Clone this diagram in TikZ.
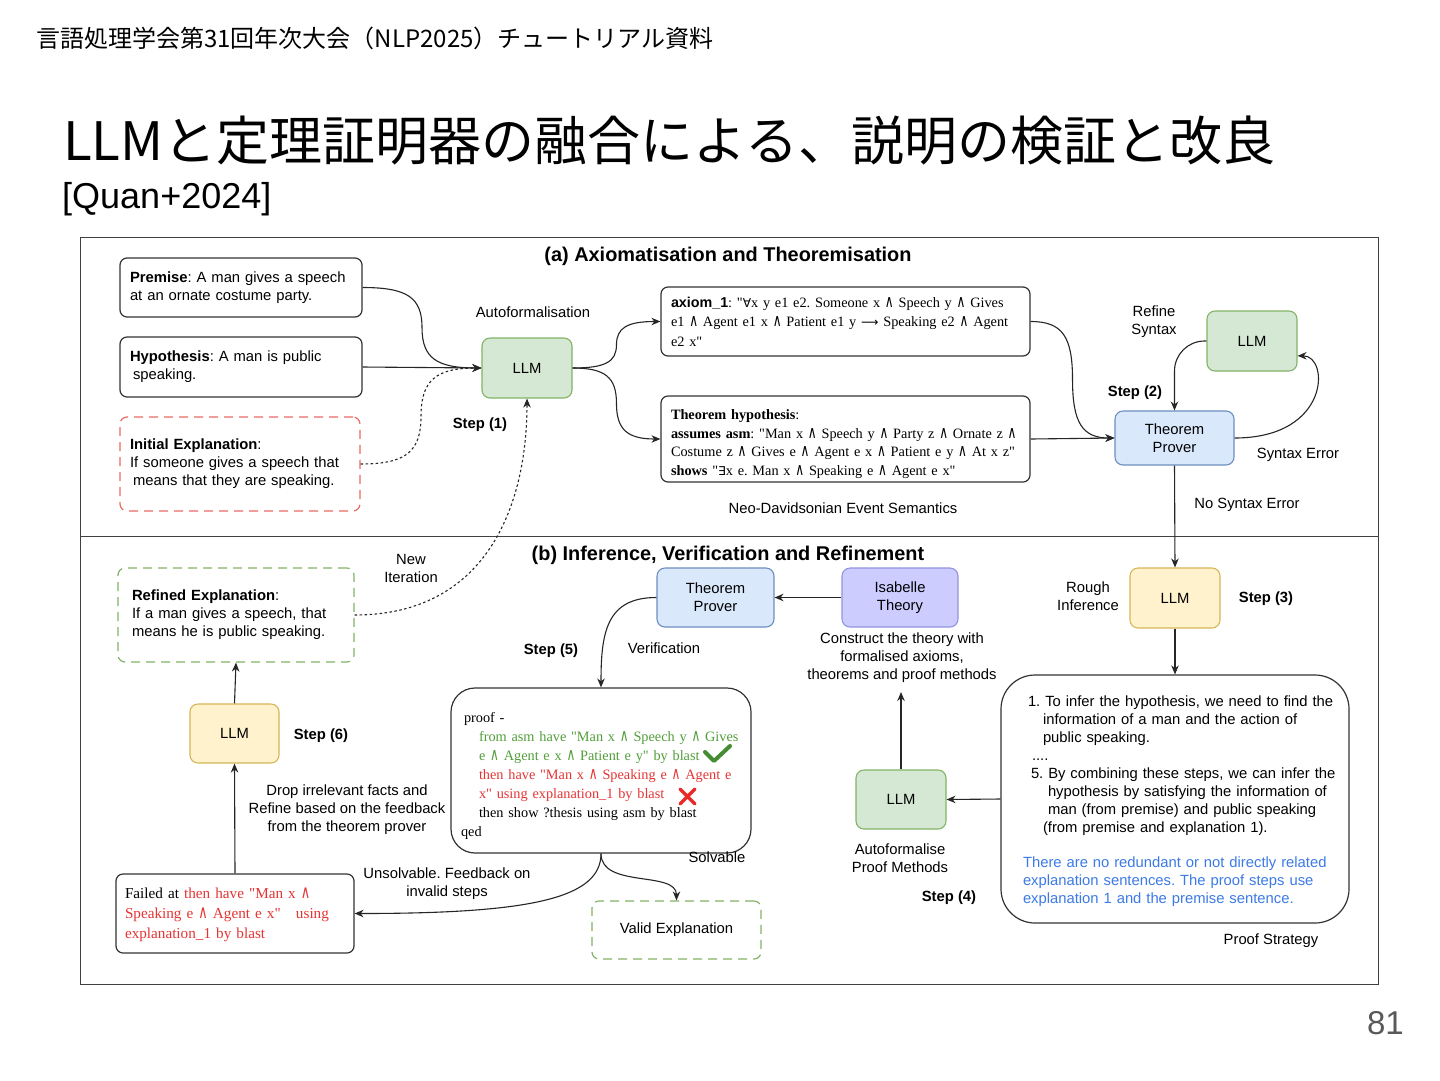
\documentclass[tikz,border=0pt]{standalone}
\usepackage{fontspec}
\usepackage{graphicx}
\setmainfont{Liberation Sans}
\newfontfamily\tsf{Liberation Serif}
\newfontfamily\lsans{Liberation Sans}
\newfontfamily\jpfont{Noto Sans CJK JP}
\newfontfamily\dvsym{DejaVu Sans}
\usetikzlibrary{arrows.meta,calc}
\newcommand\lAnd{\scalebox{0.85}[1.2]{\dvsym ∧}}
\newcommand\lAll{\scalebox{0.85}{\dvsym ∀}}
\newcommand\lEx{\scalebox{0.85}{\dvsym ∃}}
\newcommand\lImp{\scalebox{0.85}{\dvsym ⟶}}
\definecolor{ggreen}{HTML}{D5E8D4}
\definecolor{ggreenb}{HTML}{82B366}
\definecolor{gblue}{HTML}{DAE8FC}
\definecolor{gblueb}{HTML}{6C8EBF}
\definecolor{gyel}{HTML}{FFF2CC}
\definecolor{gyelb}{HTML}{D6B656}
\definecolor{gpur}{HTML}{CCCCFF}
\definecolor{gpurb}{HTML}{9393E0}
\definecolor{dred}{HTML}{EA6B66}
\definecolor{pgreen}{RGB}{82,158,58}
\definecolor{pred}{RGB}{230,52,52}
\definecolor{pblue}{RGB}{60,122,230}
\definecolor{cgreen}{RGB}{70,140,50}
\definecolor{cred}{RGB}{235,40,40}
\definecolor{pgray}{HTML}{595959}
\tikzset{
  txt/.style={font=\fontsize{14.8}{18}\selectfont, inner sep=0pt, text=black},
  boldtxt/.style={font=\fontsize{14.8}{18}\selectfont\bfseries, inner sep=0pt},
  wbox/.style={draw=black!80, line width=1.2pt, fill=white, rounded corners=7pt,
    inner xsep=10pt, inner ysep=0pt, align=left, font=\fontsize{14.8}{18}\selectfont},
  sbox/.style={wbox, font=\tsf\fontsize{14.3}{18.7}\selectfont},
  colbox/.style={line width=1.1pt, rounded corners=8pt, align=center,
    font=\fontsize{14.8}{18}\selectfont, inner sep=0pt},
  gbox/.style={colbox, draw=ggreenb, fill=ggreen},
  bbox/.style={colbox, draw=gblueb, fill=gblue},
  ybox/.style={colbox, draw=gyelb, fill=gyel},
  pbox/.style={colbox, draw=gpurb, fill=gpur},
  rdash/.style={wbox, draw=dred, dash pattern=on 9pt off 6pt},
  gdash/.style={wbox, draw=ggreenb, dash pattern=on 9pt off 6pt},
  edge/.style={draw=black!85, line width=1.1pt, -{Stealth[length=9pt,width=7.5pt]}},
  dotedge/.style={edge, dash pattern=on 2.5pt off 2.5pt},
}
\begin{document}
\frenchspacing
\begin{tikzpicture}[x=1pt,y=-1pt]
\useasboundingbox[fill=white] (0,0) rectangle (1440,1080);

% header and title
\node[anchor=base west, inner sep=0pt, font=\jpfont\fontsize{24}{28}\selectfont] (hdr) at (36,47) {言語処理学会第31回年次大会（NLP2025）チュートリアル資料};
\node[anchor=base west, inner sep=0pt, font=\jpfont\fontsize{53}{60}\selectfont] (title) at (63,160) {LLMと定理証明器の融合による、説明の検証と改良};
\node[anchor=base west, inner sep=0pt, font=\fontsize{36}{40}\selectfont] (cite) at (62,208) {[Quan+2024]};
\node[anchor=base east, inner sep=0pt, font=\fontsize{33}{36}\selectfont, text=pgray] (pnum) at (1404,1034) {81};

% frame
\draw[line width=1pt, black!75] (80,237) rectangle (1378,984);
\draw[line width=1pt, black!75] (80,536) -- (1378,536);

% section titles
\node[inner sep=0pt, font=\fontsize{19.9}{22}\selectfont\bfseries] (secA) at (728,256) {(a) Axiomatisation and Theoremisation};
\node[inner sep=0pt, font=\fontsize{19.9}{22}\selectfont\bfseries] (secB) at (728,555) {(b) Inference, Verification and Refinement};

% ---------- part (a) ----------
\node[wbox, minimum width=242pt, minimum height=59pt, text width=222pt] (premise) at (241,287.5)
  {\textbf{Premise}: A man gives a speech\\at an ornate costume party.};
\node[wbox, minimum width=242pt, minimum height=60pt, text width=222pt] (hyp) at (241,367)
  {\textbf{Hypothesis}: A man is public\\\hspace*{3pt}speaking.};
\node[rdash, minimum width=240pt, minimum height=94pt, text width=220pt] (initial) at (240,464)
  {\textbf{Initial Explanation}:\\If someone gives a speech that\\\hspace*{3pt}means that they are speaking.};
\node[gbox, minimum width=90pt, minimum height=60pt] (llm1) at (527,368) {LLM};
\node[txt] (autof) at (533,312) {Autoformalisation};
\node[boldtxt] (st1) at (480,425) {Step (1)};

\node[sbox, minimum width=369pt, minimum height=69pt, text width=349pt,
  font=\tsf\fontsize{14.3}{19.5}\selectfont] (axiom) at (845.5,321.5)
  {\mbox{{\lsans\bfseries axiom\_1}: "\lAll{}x y e1 e2. Someone x \lAnd{} Speech y \lAnd{} Gives}\\
   \mbox{e1 \lAnd{} Agent e1 x \lAnd{} Patient e1 y \lImp{} Speaking e2 \lAnd{} Agent}\\
   \mbox{e2 x"}};
\node[sbox, minimum width=369pt, minimum height=86pt, text width=349pt] (thm) at (845.5,439)
  {\mbox{\rule{0pt}{20.2pt}\textbf{Theorem hypothesis}:}\\
   \mbox{\textbf{assumes asm}: "Man x \lAnd{} Speech y \lAnd{} Party z \lAnd{} Ornate z \lAnd{}}\\
   \mbox{Costume z \lAnd{} Gives e \lAnd{} Agent e x \lAnd{} Patient e y \lAnd{} At x z"}\\
   \mbox{\textbf{shows} "\lEx{}x e. Man x \lAnd{} Speaking e \lAnd{} Agent e x"}};
\node[txt] (neo) at (843,508) {Neo-Davidsonian Event Semantics};

\node[bbox, minimum width=119pt, minimum height=54pt] (tpa) at (1174.5,438) {Theorem\\Prover};
\node[gbox, minimum width=90pt, minimum height=60pt] (llmr) at (1252,341) {LLM};
\node[txt, align=center] (refsyn) at (1154,322) {Refine\\Syntax};
\node[boldtxt] (st2) at (1135,393) {Step (2)};
\node[txt] (synerr) at (1298,455) {Syntax Error};
\node[txt] (nosyn) at (1247,505) {No Syntax Error};

% ---------- part (b) ----------
\node[gdash, minimum width=236pt, minimum height=94pt, text width=208pt, inner xsep=14pt] (refined) at (236,615)
  {\textbf{Refined Explanation}:\\If a man gives a speech, that\\means he is public speaking.};
\node[txt, align=center] (newit) at (411,568.5) {New\\Iteration};
\node[ybox, minimum width=89pt, minimum height=59pt] (llm6) at (234.5,733.5) {LLM};
\node[boldtxt] (st6) at (321,736) {Step (6)};
\node[sbox, minimum width=238pt, minimum height=79pt, text width=220pt, inner xsep=9pt,
  font=\tsf\fontsize{15.2}{20}\selectfont] (failed) at (235,913.5)
  {\mbox{\rule{0pt}{12.3pt}Failed at {\color{pred}then have "Man x \lAnd{}}}\\
   \mbox{\color{pred}Speaking e \lAnd{} Agent e x"\ \ \ using}\\
   \mbox{\color{pred}explanation\_1 by blast}};
\node[txt, align=center] (drop) at (347,810) {Drop irrelevant facts and\\Refine based on the feedback\\from the theorem prover};

\node[sbox, minimum width=300pt, minimum height=165pt, text width=284pt, inner xsep=8pt,
  rounded corners=24pt, font=\tsf\fontsize{14.3}{19}\selectfont] (proof) at (601,770.5)
  {\mbox{\rule{0pt}{21.1pt}\hspace*{5pt}proof -}\\
   \mbox{\hspace*{20pt}\color{pgreen}from asm have "Man x \lAnd{} Speech y \lAnd{} Gives}\\
   \mbox{\hspace*{20pt}\color{pgreen}e \lAnd{} Agent e x \lAnd{} Patient e y" by blast}\\
   \mbox{\hspace*{20pt}\color{pred}then have "Man x \lAnd{} Speaking e \lAnd{} Agent e}\\
   \mbox{\hspace*{20pt}\color{pred}x" using explanation\_1 by blast}\\
   \mbox{\hspace*{20pt}then show ?thesis using asm by blast}\\
   \mbox{\hspace*{2pt}qed}};
\draw[cgreen, line width=4pt, line cap=round, line join=round] (705,752) -- (714,761) -- (730,746);
\draw[cred, line width=3.3pt, line cap=round] (680,789) -- (695,804) (695,789) -- (680,804);
\node[boldtxt] (st5) at (551,651) {Step (5)};
\node[txt] (verif) at (664,648) {Verification};

\node[bbox, minimum width=117pt, minimum height=59pt] (tpb) at (715.5,597.5) {Theorem\\Prover};
\node[pbox, minimum width=116pt, minimum height=59pt] (isa) at (900,597.5) {Isabelle\\Theory};
\node[txt, align=center] (constr) at (902,658) {Construct the theory with\\formalised axioms,\\theorems and proof methods};
\coordinate (c4) at (901,692);
\node[gbox, minimum width=90pt, minimum height=59pt] (llm4) at (901,799.5) {LLM};
\node[txt, align=center] (autopm) at (900,858) {Autoformalise\\Proof Methods};
\node[boldtxt] (st4) at (949,898) {Step (4)};

\node[ybox, minimum width=90pt, minimum height=60pt] (llm3) at (1175,598) {LLM};
\node[txt, align=center] (rough) at (1088,596) {Rough\\Inference};
\node[boldtxt] (st3) at (1266,599) {Step (3)};

\node[wbox, minimum width=348pt, minimum height=248pt, text width=328pt, rounded corners=34pt] (ps) at (1175,799)
  {\mbox{\rule{0pt}{14.8pt}\hspace*{17pt}1. To infer the hypothesis, we need to find the}\\
   \mbox{\hspace*{32pt}information of a man and the action of}\\
   \mbox{\hspace*{32pt}public speaking.}\\
   \mbox{\hspace*{21pt}....}\\
   \mbox{\hspace*{20pt}5. By combining these steps, we can infer the}\\
   \mbox{\hspace*{37pt}hypothesis by satisfying the information of}\\
   \mbox{\hspace*{37pt}man (from premise) and public speaking}\\
   \mbox{\hspace*{32pt}(from premise and explanation 1).}\\[17pt]
   \mbox{\hspace*{12pt}\color{pblue}There are no redundant or not directly related}\\
   \mbox{\hspace*{12pt}\color{pblue}explanation sentences. The proof steps use}\\
   \mbox{\hspace*{12pt}\color{pblue}explanation 1 and the premise sentence.}};
\node[txt] (pstrat) at (1271,941) {Proof Strategy};

\node[gdash, minimum width=169pt, minimum height=58pt, align=center] (valid) at (676.5,930) {Valid Explanation};
\node[txt, align=center] (unsolv) at (447,884) {Unsolvable. Feedback on\\invalid steps};
\node[txt] (solv) at (717,857) {Solvable};

% ---------- connectors ----------
\coordinate (m1) at ($(premise.east)!0.5!(llm1.west)$);
\coordinate (m2) at ($(initial.east)!0.5!(llm1.west)$);
\coordinate (m3) at ($(llm1.east)!0.5!(axiom.west)$);
\coordinate (m4) at ($(llm1.east)!0.5!(thm.west)$);
\coordinate (m5) at ($(axiom.east)!0.5!(tpa.west)$);
\draw[edge] (premise.east) .. controls +(45,0) and +(0,-30) .. (m1)
  .. controls +(0,30) and +(-45,0) .. (llm1.west);
\draw[edge] (hyp.east) -- (llm1.west);
\draw[dotedge] (initial.east) .. controls +(45,0) and +(0,36) .. (m2)
  .. controls +(0,-36) and +(-45,0) .. (llm1.west);
\draw[dotedge] (refined.east) .. controls +(130,0) and +(0,110) .. (llm1.south);
\draw[edge] (llm1.east) .. controls +(33,0) and +(0,17) .. (m3)
  .. controls +(0,-17) and +(-33,0) .. (axiom.west);
\draw[edge] (llm1.east) .. controls +(33,0) and +(0,-26) .. (m4)
  .. controls +(0,26) and +(-33,0) .. (thm.west);
\draw[edge] (axiom.east) .. controls +(32,0) and +(0,-43) .. (m5)
  .. controls +(0,43) and +(-32,0) .. (tpa.west);
\draw[edge] (thm.east) -- (tpa.west);
\draw[edge] (tpa.east) .. controls +(96,0) and +(32,0) .. (llmr.-18);
\draw[edge, rounded corners=30pt] (llmr.west) -| (tpa.north);
\draw[edge] (tpa.south) -- (llm3.north);
\draw[edge] (llm3.south) -- (ps.north);
\draw[edge] (ps.west) -- (llm4.east);
\draw[edge] (llm4.north) -- (c4);
\draw[edge] (isa.west) -- (tpb.east);
\draw[edge] (tpb.west) .. controls +(-50,0) and +(0,-55) .. (proof.north);
\draw[edge] (proof.south) .. controls +(0,45) and +(175,0) .. (failed.east);
\draw[edge] (proof.south) .. controls +(0,35) and +(0,-30) .. (valid.north);
\draw[edge] (failed.north) -- (llm6.south);
\draw[edge] (llm6.north) -- (refined.south);
\end{tikzpicture}
\end{document}
